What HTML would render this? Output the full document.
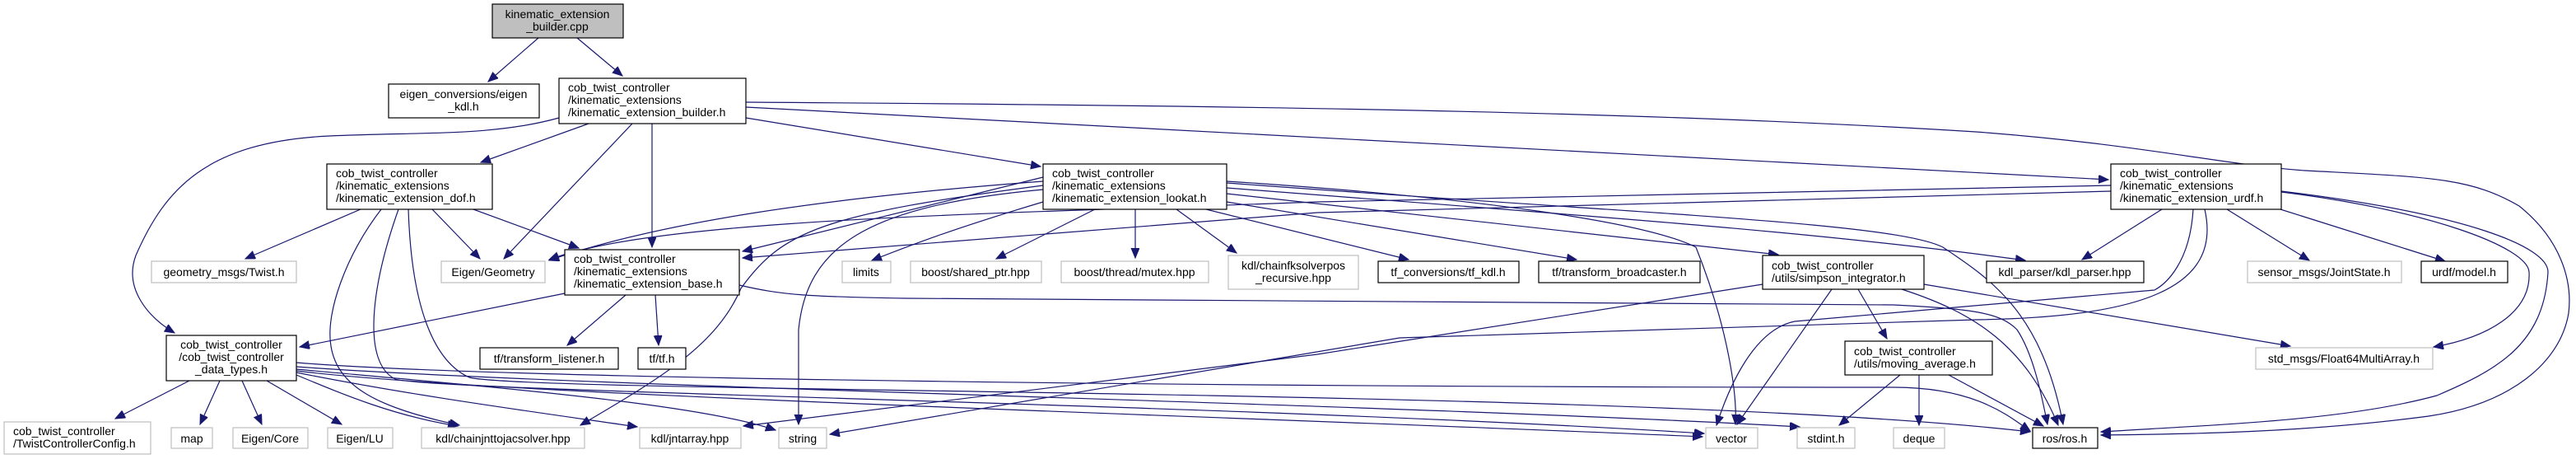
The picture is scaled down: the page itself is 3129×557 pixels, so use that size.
<!DOCTYPE html>
<html><head><meta charset="utf-8"><style>
html,body{margin:0;padding:0;background:#fff;}
svg{display:block;}
text{font-family:"Liberation Sans","DejaVu Sans",sans-serif;font-size:14px;fill:#000;}
.n{fill:#fff;stroke:#000;stroke-width:1.2;}
.g{fill:#fff;stroke:#bfbfbf;stroke-width:1.2;}
.e{fill:none;stroke:#191970;stroke-width:1.2;marker-end:url(#a);}
</style></head><body>
<svg width="3129" height="557" viewBox="0 0 3129 557" xmlns="http://www.w3.org/2000/svg">
<defs><marker id="a" markerUnits="userSpaceOnUse" markerWidth="14" markerHeight="12" refX="12" refY="5" orient="auto"><path d="M0,0 L12,5 L0,10 z" fill="#191970" stroke="#191970"/></marker></defs>

<!-- edges -->
<path class="e" d="M654,46 L593,99"/>
<path class="e" d="M701,46 L756,92"/>
<path class="e" d="M679,143 C600,165 520,160 400,165 C250,172 200,230 165,310 C150,350 180,385 212,404"/>
<path class="e" d="M715,150 L584,197"/>
<path class="e" d="M768,150 L612,314"/>
<path class="e" d="M792,150 L792,300"/>
<path class="e" d="M906,143 L1264,202"/>
<path class="e" d="M906,130 L2561,218"/>
<path class="e" d="M906,124 C1500,128 2000,135 2400,160 C2600,175 2700,200 2800,207 C2950,215 3000,215 3060,250 C3110,290 3125,340 3120,380 C3110,440 3050,490 2950,505 C2800,525 2650,527 2552,528"/>
<path class="e" d="M438,254 L298,314"/>
<path class="e" d="M525,254 L583,314"/>
<path class="e" d="M575,254 L703,301"/>
<path class="e" d="M463,254 C420,310 395,380 402,420 C410,470 460,495 558,516"/>
<path class="e" d="M484,254 C450,350 440,440 480,460 C520,475 1500,490 2070,526"/>
<path class="e" d="M496,254 C500,380 530,440 570,458 C650,478 2000,470 2466,524"/>
<path class="e" d="M686,356 L364,421"/>
<path class="e" d="M760,358 L689,419"/>
<path class="e" d="M796,358 L800,419"/>
<path class="e" d="M898,346 C950,358 980,360 1100,362 L2300,370 C2400,375 2430,380 2450,400 C2470,430 2480,480 2487,515"/>
<path class="e" d="M1267,215 L902,305"/>
<path class="e" d="M2564,232 L1600,258 L902,313"/>
<path class="e" d="M1267,220 C1000,240 800,270 667,316"/>
<path class="e" d="M2564,225 L1600,245 C1200,260 800,265 667,315"/>
<path class="e" d="M1267,245 C1150,280 1100,300 1059,316"/>
<path class="e" d="M1330,254 L1210,314"/>
<path class="e" d="M1379,254 L1379,313"/>
<path class="e" d="M1429,254 L1502,307"/>
<path class="e" d="M1465,254 L1711,315"/>
<path class="e" d="M1490,245 L1915,315"/>
<path class="e" d="M1490,235 L2160,309"/>
<path class="e" d="M1490,228 C1900,260 2200,280 2460,316"/>
<path class="e" d="M1490,222 C2000,260 2300,270 2360,300 C2420,340 2480,380 2506,515"/>
<path class="e" d="M1490,220 C1800,240 2000,270 2060,300 C2100,400 2110,480 2108,515"/>
<path class="e" d="M1267,230 C1050,250 980,300 970,400 L970,515"/>
<path class="e" d="M1267,225 C1000,260 950,280 900,350 C870,420 800,460 705,516"/>
<path class="e" d="M230,462 L140,508"/>
<path class="e" d="M267,462 L243,515"/>
<path class="e" d="M294,462 L318,515"/>
<path class="e" d="M324,462 L415,515"/>
<path class="e" d="M360,455 C420,480 480,505 556,517"/>
<path class="e" d="M360,452 C500,480 650,500 774,518"/>
<path class="e" d="M360,448 C600,470 850,490 942,522"/>
<path class="e" d="M360,450 C600,480 1500,505 2068,530"/>
<path class="e" d="M360,445 C700,470 1700,490 2186,518"/>
<path class="e" d="M360,440 C600,460 1500,470 2300,470 C2400,470 2440,505 2466,523"/>
<path class="e" d="M2257,351 L2292,411"/>
<path class="e" d="M2225,351 L2110,515"/>
<path class="e" d="M2310,351 C2400,380 2460,420 2500,516"/>
<path class="e" d="M2141,345 L1600,430 L903,517"/>
<path class="e" d="M2337,345 L2782,420"/>
<path class="e" d="M2308,455 L2234,516"/>
<path class="e" d="M2331,455 L2331,516"/>
<path class="e" d="M2367,455 L2482,517"/>
<path class="e" d="M2626,254 L2529,315"/>
<path class="e" d="M2705,254 L2805,316"/>
<path class="e" d="M2770,254 L2970,317"/>
<path class="e" d="M2771,233 C2950,255 3070,300 3072,330 C3075,380 3020,410 2956,421"/>
<path class="e" d="M2771,232 C3000,260 3095,300 3095,330 C3090,420 3030,450 2960,480 C2850,510 2700,515 2552,524"/>
<path class="e" d="M2664,254 C2660,320 2630,345 2617,352 L2180,390 C2130,400 2100,470 2085,516"/>
<path class="e" d="M2678,254 C2700,350 2600,385 2400,388 L1700,410 L1008,527"/>

<!-- nodes -->
<rect x="598" y="5" width="159" height="41" fill="#bfbfbf" stroke="#000" stroke-width="1.2"/>
<text x="677" y="22" text-anchor="middle">kinematic_extension</text><text x="677" y="37" text-anchor="middle">_builder.cpp</text>

<rect class="n" x="472" y="102" width="183" height="41"/>
<text x="563" y="119" text-anchor="middle">eigen_conversions/eigen</text><text x="563" y="134" text-anchor="middle">_kdl.h</text>

<rect class="n" x="679" y="95" width="227" height="55"/>
<text x="690" y="111">cob_twist_controller</text><text x="690" y="126">/kinematic_extensions</text><text x="690" y="141">/kinematic_extension_builder.h</text>

<rect class="n" x="397" y="199" width="201" height="55"/>
<text x="408" y="215">cob_twist_controller</text><text x="408" y="230">/kinematic_extensions</text><text x="408" y="245">/kinematic_extension_dof.h</text>

<rect class="n" x="1267" y="199" width="223" height="55"/>
<text x="1278" y="215">cob_twist_controller</text><text x="1278" y="230">/kinematic_extensions</text><text x="1278" y="245">/kinematic_extension_lookat.h</text>

<rect class="n" x="2564" y="199" width="207" height="55"/>
<text x="2575" y="215">cob_twist_controller</text><text x="2575" y="230">/kinematic_extensions</text><text x="2575" y="245">/kinematic_extension_urdf.h</text>

<rect class="g" x="184" y="317" width="176" height="26"/><text x="272" y="335" text-anchor="middle">geometry_msgs/Twist.h</text>
<rect class="g" x="536" y="317" width="126" height="26"/><text x="599" y="335" text-anchor="middle">Eigen/Geometry</text>

<rect class="n" x="686" y="303" width="212" height="55"/>
<text x="697" y="319">cob_twist_controller</text><text x="697" y="334">/kinematic_extensions</text><text x="697" y="349">/kinematic_extension_base.h</text>

<rect class="g" x="1023" y="317" width="59" height="26"/><text x="1052" y="335" text-anchor="middle">limits</text>
<rect class="g" x="1106" y="317" width="159" height="26"/><text x="1185" y="335" text-anchor="middle">boost/shared_ptr.hpp</text>
<rect class="g" x="1289" y="317" width="179" height="26"/><text x="1378" y="335" text-anchor="middle">boost/thread/mutex.hpp</text>
<rect class="g" x="1492" y="310" width="158" height="41"/><text x="1571" y="327" text-anchor="middle">kdl/chainfksolverpos</text><text x="1571" y="342" text-anchor="middle">_recursive.hpp</text>
<rect class="n" x="1674" y="317" width="171" height="26"/><text x="1759" y="335" text-anchor="middle">tf_conversions/tf_kdl.h</text>
<rect class="n" x="1869" y="317" width="196" height="26"/><text x="1967" y="335" text-anchor="middle">tf/transform_broadcaster.h</text>

<rect class="n" x="2141" y="310" width="196" height="41"/>
<text x="2152" y="327">cob_twist_controller</text><text x="2152" y="342">/utils/simpson_integrator.h</text>

<rect class="n" x="2413" y="317" width="191" height="26"/><text x="2508" y="335" text-anchor="middle">kdl_parser/kdl_parser.hpp</text>
<rect class="g" x="2730" y="317" width="187" height="26"/><text x="2823" y="335" text-anchor="middle">sensor_msgs/JointState.h</text>
<rect class="n" x="2941" y="317" width="105" height="26"/><text x="2993" y="335" text-anchor="middle">urdf/model.h</text>

<rect class="n" x="202" y="407" width="158" height="55"/>
<text x="281" y="423" text-anchor="middle">cob_twist_controller</text><text x="281" y="438" text-anchor="middle">/cob_twist_controller</text><text x="281" y="453" text-anchor="middle">_data_types.h</text>

<rect class="n" x="583" y="422" width="168" height="26"/><text x="667" y="440" text-anchor="middle">tf/transform_listener.h</text>
<rect class="n" x="775" y="422" width="58" height="26"/><text x="804" y="440" text-anchor="middle">tf/tf.h</text>

<rect class="n" x="2241" y="414" width="179" height="41"/>
<text x="2252" y="431">cob_twist_controller</text><text x="2252" y="446">/utils/moving_average.h</text>

<rect class="g" x="2740" y="422" width="215" height="26"/><text x="2847" y="440" text-anchor="middle">std_msgs/Float64MultiArray.h</text>

<rect class="g" x="5" y="512" width="178" height="39"/><text x="16" y="528">cob_twist_controller</text><text x="16" y="543">/TwistControllerConfig.h</text>
<rect class="g" x="208" y="519" width="50" height="25"/><text x="233" y="537" text-anchor="middle">map</text>
<rect class="g" x="283" y="519" width="91" height="25"/><text x="328" y="537" text-anchor="middle">Eigen/Core</text>
<rect class="g" x="398" y="519" width="79" height="25"/><text x="437" y="537" text-anchor="middle">Eigen/LU</text>
<rect class="g" x="512" y="519" width="198" height="25"/><text x="611" y="537" text-anchor="middle">kdl/chainjnttojacsolver.hpp</text>
<rect class="g" x="777" y="519" width="123" height="25"/><text x="838" y="537" text-anchor="middle">kdl/jntarray.hpp</text>
<rect class="g" x="946" y="519" width="58" height="25"/><text x="975" y="537" text-anchor="middle">string</text>
<rect class="g" x="2072" y="519" width="63" height="25"/><text x="2103" y="537" text-anchor="middle">vector</text>
<rect class="g" x="2183" y="519" width="70" height="25"/><text x="2218" y="537" text-anchor="middle">stdint.h</text>
<rect class="g" x="2300" y="519" width="62" height="25"/><text x="2331" y="537" text-anchor="middle">deque</text>
<rect class="n" x="2469" y="519" width="79" height="25"/><text x="2508" y="537" text-anchor="middle">ros/ros.h</text>
</svg>
</body></html>
